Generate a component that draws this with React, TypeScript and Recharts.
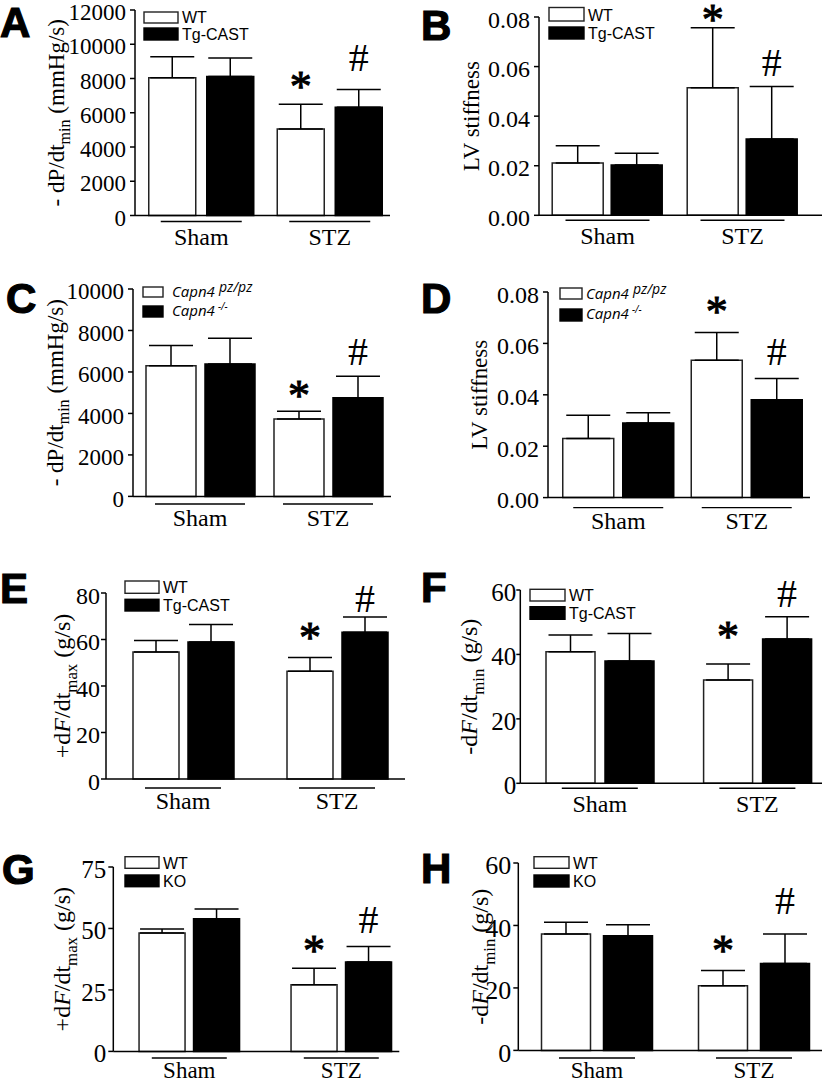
import React from 'react';
import { BarChart, Bar, XAxis, YAxis, ErrorBar, LabelList } from 'recharts';

// ---------- data ----------
const groups = ['Sham', 'STZ'];
const marksWT = ['', '*'];
const marksTg = ['', '#'];

const legendTgCast = ['WT', 'Tg-CAST'];
const legendCapn4 = ['Capn4', 'Capn4'];
const legendCapn4Sup = ['pz/pz', '-/-'];
const legendKO = ['WT', 'KO'];
const panelLetters = ['A', 'B', 'C', 'D', 'E', 'F', 'G', 'H'];

// A: -dP/dt min, WT vs Tg-CAST
const aWT = [8050, 5050];
const aWTErr = [1220, 1450];
const aTg = [8120, 6320];
const aTgErr = [1070, 1040];
const aTicks = [0, 2000, 4000, 6000, 8000, 10000, 12000];

// B: LV stiffness, WT vs Tg-CAST
const bWT = [0.0211, 0.0515];
const bWTErr = [0.007, 0.0242];
const bTg = [0.0203, 0.0308];
const bTgErr = [0.0047, 0.0212];
const bTicks = [0, 0.02, 0.04, 0.06, 0.08];

// C: -dP/dt min, Capn4 pz/pz vs Capn4 -/-
const cWT = [6300, 3730];
const cWTErr = [980, 370];
const cTg = [6380, 4760];
const cTgErr = [1250, 1030];
const cTicks = [0, 2000, 4000, 6000, 8000, 10000];

// D: LV stiffness, Capn4
const dWT = [0.023, 0.0534];
const dWTErr = [0.009, 0.0108];
const dTg = [0.029, 0.0381];
const dTgErr = [0.004, 0.0082];
const dTicks = [0, 0.02, 0.04, 0.06, 0.08];

// E: +dF/dt max, WT vs Tg-CAST
const eWT = [54.6, 46.3];
const eWTErr = [5.0, 6.0];
const eTg = [58.9, 63.1];
const eTgErr = [7.5, 6.6];
const eTicks = [0, 20, 40, 60, 80];

// F: -dF/dt min, WT vs Tg-CAST
const fWT = [40.8, 32.1];
const fWTErr = [5.2, 4.9];
const fTg = [38.0, 44.8];
const fTgErr = [8.5, 6.9];
const fTicks = [0, 20, 40, 60];

// G: +dF/dt max, WT vs KO
const gWT = [48.2, 27.1];
const gWTErr = [1.6, 6.7];
const gTg = [54.0, 36.4];
const gTgErr = [3.9, 6.3];
const gTicks = [0, 25, 50, 75];

// H: -dF/dt min, WT vs KO
const hWT = [37.3, 20.7];
const hWTErr = [3.7, 4.9];
const hTg = [36.7, 27.8];
const hTgErr = [3.5, 9.5];
const hTicks = [0, 20, 40, 60];

const labelDPdt = [{ t: '- dP/dt' }, { t: 'min', sub: true }, { t: ' (mmHg/s)' }];
const labelStiff = [{ t: 'LV stiffness' }];
const labelPlusMax = [{ t: '+d' }, { t: 'F', it: true }, { t: '/dt' }, { t: 'max', sub: true }, { t: ' (g/s)' }];
const labelMinusMin = [{ t: '-d' }, { t: 'F', it: true }, { t: '/dt' }, { t: 'min', sub: true }, { t: ' (g/s)' }];

// ---------- layout / style ----------
const SERIF = '"Liberation Serif", "Times New Roman", serif';
const SANS = '"Liberation Sans", Arial, sans-serif';

type Cfg = {
  side: 'left' | 'right';
  x0: number; axisEnd: number; rs: number; band: number;
  yTop: number; y0: number; catGap: number; barGap: number;
  tickFs: number; tickSize: number; tickMargin: number;
  labelX: number; labelFs: number;
  ulW: number; ulOff: number; txtOff: number; grpFs: number;
  starGap: number; hashGap: number; max: number;
};

const cfgA: Cfg = { side: 'left', x0: 135, axisEnd: 390, rs: 137, band: 128.5, yTop: 9.5, y0: 215, catGap: 11.75, barGap: 11, tickFs: 23, tickSize: 5, tickMargin: 4, labelX: 64, labelFs: 23, ulW: 81, ulOff: 6, txtOff: 29, grpFs: 24, starGap: 24, hashGap: 32, max: 12000 };
const cfgB: Cfg = { side: 'right', x0: 539, axisEnd: 822, rs: 540, band: 135, yTop: 16.7, y0: 215, catGap: 12.2, barGap: 8, tickFs: 24, tickSize: 5, tickMargin: 4, labelX: 479, labelFs: 23, ulW: 84, ulOff: 5, txtOff: 29, grpFs: 24, starGap: 14, hashGap: 24, max: 0.08 };
const cfgC: Cfg = { side: 'left', x0: 133, axisEnd: 391, rs: 136, band: 128, yTop: 289.3, y0: 496.7, catGap: 10, barGap: 9, tickFs: 23, tickSize: 5, tickMargin: 4, labelX: 63, labelFs: 23, ulW: 90, ulOff: 7.6, txtOff: 30, grpFs: 24, starGap: 22, hashGap: 25, max: 10000 };
const cfgD: Cfg = { side: 'right', x0: 548, axisEnd: 810, rs: 554, band: 128.5, yTop: 291.7, y0: 497.3, catGap: 8.75, barGap: 9, tickFs: 24, tickSize: 5, tickMargin: 4, labelX: 487, labelFs: 23, ulW: 90, ulOff: 10, txtOff: 31.7, grpFs: 24, starGap: 27, hashGap: 27, max: 0.08 };
const cfgE: Cfg = { side: 'left', x0: 106, axisEnd: 405, rs: 106, band: 154, yTop: 593.3, y0: 779.3, catGap: 27, barGap: 9, tickFs: 24, tickSize: 5, tickMargin: 1, labelX: 70, labelFs: 24, ulW: 76, ulOff: 9, txtOff: 30, grpFs: 24, starGap: 26, hashGap: 19, max: 80 };
const cfgF: Cfg = { side: 'right', x0: 520.3, axisEnd: 822, rs: 521, band: 157.6, yTop: 590, y0: 783.3, catGap: 25, barGap: 10, tickFs: 25, tickSize: 4, tickMargin: 0, labelX: 477, labelFs: 24, ulW: 76, ulOff: 5, txtOff: 28.7, grpFs: 24, starGap: 34, hashGap: 23, max: 60 };
const cfgG: Cfg = { side: 'left', x0: 113.3, axisEnd: 399.3, rs: 113.3, band: 152, yTop: 867.3, y0: 1051.7, catGap: 25.75, barGap: 8.5, tickFs: 25, tickSize: 5, tickMargin: 2, labelX: 70, labelFs: 24, ulW: 75, ulOff: 6.6, txtOff: 26.5, grpFs: 23, starGap: 24, hashGap: 27, max: 75 };
const cfgH: Cfg = { side: 'right', x0: 518.3, axisEnd: 822, rs: 518.5, band: 157, yTop: 863.3, y0: 1050.7, catGap: 23, barGap: 13, tickFs: 26, tickSize: 5, tickMargin: 2, labelX: 488, labelFs: 24, ulW: 76, ulOff: 7.6, txtOff: 27.5, grpFs: 23, starGap: 26, hashGap: 33, max: 60 };

const letterPos = [
  { x: 0, y: 37 }, { x: 421, y: 40 }, { x: 6, y: 313 }, { x: 421, y: 313 },
  { x: 0, y: 603 }, { x: 421, y: 602 }, { x: 2, y: 884 }, { x: 421, y: 883 },
];

type LegendCfg = { x: number; w: number; y1: number; h1: number; y2: number; h2: number; tx: number; b1: number; b2: number; capn?: boolean };
const legA: LegendCfg = { x: 144, w: 34, y1: 12, h1: 11, y2: 28, h2: 12, tx: 182, b1: 23, b2: 39.5 };
const legB: LegendCfg = { x: 549, w: 35, y1: 7.5, h1: 13.5, y2: 27, h2: 12, tx: 588, b1: 20.7, b2: 39 };
const legC: LegendCfg = { x: 143, w: 20, y1: 287, h1: 10, y2: 306, h2: 11, tx: 172, b1: 296.5, b2: 316, capn: true };
const legD: LegendCfg = { x: 560, w: 22, y1: 288, h1: 11, y2: 309, h2: 12, tx: 586, b1: 298.5, b2: 318.5, capn: true };
const legE: LegendCfg = { x: 125, w: 34, y1: 581, h1: 12.3, y2: 599.3, h2: 11.7, tx: 163, b1: 593, b2: 610.5 };
const legF: LegendCfg = { x: 530, w: 35, y1: 589.3, h1: 11.7, y2: 606.7, h2: 12.6, tx: 569, b1: 601, b2: 619 };
const legG: LegendCfg = { x: 125, w: 34, y1: 856.7, h1: 11.6, y2: 875, h2: 11.7, tx: 163, b1: 868.5, b2: 886.5 };
const legH: LegendCfg = { x: 534, w: 35, y1: 856.7, h1: 11.6, y2: 875, h2: 12, tx: 573, b1: 868.5, b2: 886.5 };

// ---------- components ----------
const GroupTick = (p: any) => {
  const { x, y, payload, cfg } = p;
  return (
    <g>
      <line x1={x - cfg.ulW / 2} x2={x + cfg.ulW / 2} y1={y + cfg.ulOff} y2={y + cfg.ulOff} stroke="#000" strokeWidth={1.4} />
      <text x={x} y={y + cfg.txtOff} textAnchor="middle" fontSize={cfg.grpFs} fontFamily={SERIF} fill="#000">
        {payload.value}
      </text>
    </g>
  );
};

const ValueTick = (p: any) => {
  const { x, y, payload, cfg, fmt } = p;
  return (
    <text x={x} y={y + 2} dy="0.355em" textAnchor="end" fontSize={cfg.tickFs} fontFamily={SERIF} fill="#000">
      {fmt(payload.value)}
    </text>
  );
};

const makeMark = (vals: number[], errs: number[], marks: string[], gap: number) => (props: any) => {
  const vb = props.viewBox || props;
  const { x, y, width, height } = vb;
  const v = props.value;
  if (!v) return null;
  const i = props.index ?? marks.indexOf(v);
  const errTop = y - (height * errs[i]) / vals[i];
  const fs = v === '*' ? 44 : 40;
  const off = v === '*' ? 0.47 : 0.34;
  return (
    <text x={x + width / 2} y={errTop - gap + off * fs} textAnchor="middle" fontSize={fs}
      fontFamily={SERIF} fill="#000" stroke={v === '*' ? '#000' : 'none'} strokeWidth={v === '*' ? 1 : 0}>
      {v}
    </text>
  );
};

const makeYLabel = (parts: any[], bx: number, fs: number) => (props: any) => {
  const vb = props.viewBox || { y: 0, height: 0 };
  const cy = vb.y + vb.height / 2;
  const subShift = fs * 0.28;
  const nodes: any[] = [];
  parts.forEach((pt, k) => {
    if (pt.sub) {
      nodes.push(<tspan key={k} dy={subShift} fontSize={fs * 0.7}>{pt.t}</tspan>);
    } else {
      const prevSub = k > 0 && parts[k - 1].sub;
      nodes.push(
        <tspan key={k} dy={prevSub ? -subShift : undefined} fontStyle={pt.it ? 'italic' : undefined}>{pt.t}</tspan>
      );
    }
  });
  return (
    <text x={bx} y={cy} transform={`rotate(-90 ${bx} ${cy})`} textAnchor="middle" fontSize={fs}
      fontFamily={SERIF} fill="#000" style={{ whiteSpace: 'pre' }}>
      {nodes}
    </text>
  );
};

function Panel({ cfg, wt, wtErr, tg, tgErr, ticks, fmt, label, names }: any) {
  const rows = groups.map((g, i) => ({
    group: g,
    wt: wt[i], wtErr: [0, wtErr[i]],
    tg: tg[i], tgErr: [0, tgErr[i]],
    wtMark: marksWT[i], tgMark: marksTg[i],
  }));
  const L = cfg.side === 'left' ? 0 : 411;
  const mT = 26, mR = 12, xh = 46;
  const yw = cfg.x0 - L;
  const W = cfg.axisEnd - L + mR;
  const H = mT + (cfg.y0 - cfg.yTop) + xh;
  const padL = cfg.rs - cfg.x0;
  const padR = cfg.axisEnd - (cfg.rs + 2 * cfg.band);
  return (
    <div style={{ position: 'absolute', left: L, top: cfg.yTop - mT }}>
      <BarChart width={W} height={H} data={rows} margin={{ top: mT, right: mR, bottom: 0, left: 0 }}
        barCategoryGap={cfg.catGap} barGap={cfg.barGap}>
        <XAxis dataKey="group" type="category" height={xh} interval={0}
          axisLine={{ stroke: '#000', strokeWidth: 1.5 }} tickLine={false} tickSize={0} tickMargin={0}
          padding={{ left: padL, right: padR }}
          tick={(p: any) => <GroupTick {...p} cfg={cfg} />} />
        <YAxis type="number" width={yw} domain={[0, cfg.max]} ticks={ticks} interval={0}
          allowDataOverflow={false}
          axisLine={{ stroke: '#000', strokeWidth: 1.5 }} tickLine={{ stroke: '#000', strokeWidth: 1.5 }}
          tickSize={cfg.tickSize} tickMargin={cfg.tickMargin}
          tick={(p: any) => <ValueTick {...p} cfg={cfg} fmt={fmt} />}
          label={{ content: makeYLabel(label, cfg.labelX - L, cfg.labelFs) }} />
        <Bar dataKey="wt" name={names[0]} fill="#fff" stroke="#222" strokeWidth={1.5} isAnimationActive={false}>
          <ErrorBar dataKey="wtErr" width={22} stroke="#000" strokeWidth={1.5} direction="y" />
          <LabelList dataKey="wtMark" content={makeMark(wt, wtErr, marksWT, cfg.starGap)} />
        </Bar>
        <Bar dataKey="tg" name={names[1]} fill="#000" stroke="#000" strokeWidth={1.5} isAnimationActive={false}>
          <ErrorBar dataKey="tgErr" width={22} stroke="#000" strokeWidth={1.5} direction="y" />
          <LabelList dataKey="tgMark" content={makeMark(tg, tgErr, marksTg, cfg.hashGap)} />
        </Bar>
      </BarChart>
    </div>
  );
}

function LegendSvg({ lc, names, sups }: { lc: LegendCfg; names: string[]; sups?: string[] }) {
  const fs = lc.capn ? 15 : 16;
  const fam = lc.capn ? '"Open Sans", "Noto Sans", sans-serif' : SANS;
  return (
    <g>
      <rect x={lc.x} y={lc.y1} width={lc.w} height={lc.h1} fill="#fff" stroke="#222" strokeWidth={1.4} />
      <rect x={lc.x} y={lc.y2} width={lc.w} height={lc.h2} fill="#000" stroke="#000" strokeWidth={1.4} />
      {[lc.b1, lc.b2].map((b, k) => (
        <text key={k} x={lc.tx} y={b} fontSize={fs} fontFamily={fam} fill="#000" fontStyle={lc.capn ? 'italic' : undefined}>
          {names[k]}
          {sups ? (
            <tspan dy={k === 0 ? -5 : -6} dx={k === 0 ? 4 : 3} fontSize={k === 0 ? 14 : 10}>{sups[k]}</tspan>
          ) : null}
        </text>
      ))}
    </g>
  );
}

const fmt2 = (v: number) => v.toFixed(2);
const fmt0 = (v: number) => String(v);

export default function App() {
  return (
    <div style={{ position: 'absolute', left: 0, top: 0, width: 822, height: 1082, overflow: 'hidden', background: '#fff' }}>
      <Panel cfg={cfgA} wt={aWT} wtErr={aWTErr} tg={aTg} tgErr={aTgErr} ticks={aTicks} fmt={fmt0} label={labelDPdt} names={legendTgCast} />
      <Panel cfg={cfgB} wt={bWT} wtErr={bWTErr} tg={bTg} tgErr={bTgErr} ticks={bTicks} fmt={fmt2} label={labelStiff} names={legendTgCast} />
      <Panel cfg={cfgC} wt={cWT} wtErr={cWTErr} tg={cTg} tgErr={cTgErr} ticks={cTicks} fmt={fmt0} label={labelDPdt} names={legendCapn4} />
      <Panel cfg={cfgD} wt={dWT} wtErr={dWTErr} tg={dTg} tgErr={dTgErr} ticks={dTicks} fmt={fmt2} label={labelStiff} names={legendCapn4} />
      <Panel cfg={cfgE} wt={eWT} wtErr={eWTErr} tg={eTg} tgErr={eTgErr} ticks={eTicks} fmt={fmt0} label={labelPlusMax} names={legendTgCast} />
      <Panel cfg={cfgF} wt={fWT} wtErr={fWTErr} tg={fTg} tgErr={fTgErr} ticks={fTicks} fmt={fmt0} label={labelMinusMin} names={legendTgCast} />
      <Panel cfg={cfgG} wt={gWT} wtErr={gWTErr} tg={gTg} tgErr={gTgErr} ticks={gTicks} fmt={fmt0} label={labelPlusMax} names={legendKO} />
      <Panel cfg={cfgH} wt={hWT} wtErr={hWTErr} tg={hTg} tgErr={hTgErr} ticks={hTicks} fmt={fmt0} label={labelMinusMin} names={legendKO} />
      <svg width={822} height={1082} style={{ position: 'absolute', left: 0, top: 0, pointerEvents: 'none' }}>
        {panelLetters.map((ch, i) => (
          <text key={ch} x={letterPos[i].x} y={letterPos[i].y} fontSize={42} fontWeight="bold" fontFamily={SANS}
            fill="#000" stroke="#000" strokeWidth={1.2}>{ch}</text>
        ))}
        <LegendSvg lc={legA} names={legendTgCast} />
        <LegendSvg lc={legB} names={legendTgCast} />
        <LegendSvg lc={legC} names={legendCapn4} sups={legendCapn4Sup} />
        <LegendSvg lc={legD} names={legendCapn4} sups={legendCapn4Sup} />
        <LegendSvg lc={legE} names={legendTgCast} />
        <LegendSvg lc={legF} names={legendTgCast} />
        <LegendSvg lc={legG} names={legendKO} />
        <LegendSvg lc={legH} names={legendKO} />
      </svg>
    </div>
  );
}
